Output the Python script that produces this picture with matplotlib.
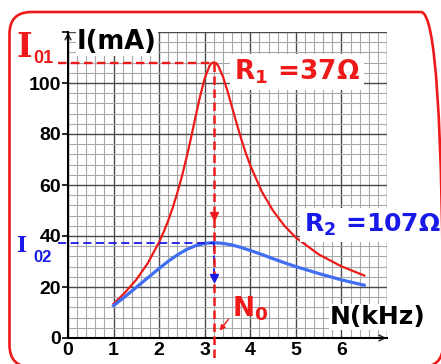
import numpy as np
import matplotlib
matplotlib.use("Agg")
import matplotlib.pyplot as plt
from matplotlib.patches import FancyBboxPatch

# ---- data ----
freq_r1 = [1.0, 1.25, 1.5, 1.75, 2.0, 2.1, 2.2, 2.3, 2.4, 2.5, 2.6, 2.7, 2.8, 2.9, 3.0, 3.1, 3.15,
           3.2, 3.25, 3.3, 3.4, 3.5, 3.6, 3.7, 3.8, 3.9, 4.0, 4.25, 4.5, 4.75, 5.0, 5.5, 6.0, 6.5]
current_r1 = [13.4, 17.8, 22.9, 29.3, 37.6, 41.6, 46.1, 51.2, 57.0, 63.4, 70.7, 78.5, 86.9, 94.9,
              101.8, 106.5, 107.8, 108.1, 107.8, 106.6, 102.5, 96.8, 90.5, 84.2, 78.1, 72.6, 67.7,
              57.5, 49.9, 44.0, 39.4, 32.8, 28.1, 24.5]
freq_r2 = [1.0, 1.25, 1.5, 1.75, 2.0, 2.2, 2.4, 2.6, 2.8, 3.0, 3.2, 3.4, 3.6, 3.8, 4.0, 4.25,
           4.5, 4.75, 5.0, 5.5, 6.0, 6.5]
current_r2 = [12.7, 16.2, 19.9, 23.6, 27.3, 30.1, 32.6, 34.7, 36.2, 37.1, 37.4, 37.1, 36.5, 35.5,
              34.3, 32.8, 31.1, 29.5, 28.0, 25.3, 22.8, 20.7]
n0 = 3.2
i01 = 108.0
i02 = 37.4
x_ticks = [0, 1, 2, 3, 4, 5, 6, 7]
x_labels = ["0", "1", "2", "3", "4", "5", "6", ""]
y_ticks = [0, 20, 40, 60, 80, 100, 120]
y_labels = ["0", "20", "40", "60", "80", "100", ""]

RED = "#ee1a1a"
BLUE_LINE = "#3f6ef2"
BLUE_TXT = "#1a1ae8"

plt.rcParams["mathtext.fontset"] = "dejavusans"

W, H = 441, 364
fig = plt.figure(figsize=(W / 100, H / 100), dpi=100)
fig.patch.set_facecolor("white")

ax = fig.add_axes([68 / W, (H - 338) / H, 319 / W, 306 / H])
ax.set_xlim(0, 7)
ax.set_ylim(0, 120)

ax.set_xticks(x_ticks)
ax.set_xticklabels(x_labels)
ax.set_yticks(y_ticks)
ax.set_yticklabels(y_labels)
ax.set_xticks(np.arange(0, 7.001, 0.2), minor=True)
ax.set_yticks(np.arange(0, 120.001, 4), minor=True)
ax.grid(which="minor", color="#a8a8a8", lw=0.8, zorder=0)
ax.grid(which="major", color="#4a4a4a", lw=1.0, zorder=0)
ax.set_axisbelow(True)
ax.tick_params(which="minor", length=0)
ax.tick_params(axis="x", which="major", length=0, pad=3)
ax.tick_params(axis="y", which="major", length=4, width=1.2, pad=1)
for lab in ax.get_xticklabels() + ax.get_yticklabels():
    lab.set_fontfamily("Liberation Sans")
    lab.set_fontweight("bold")
    lab.set_fontsize(14)
for s in ["top", "right"]:
    ax.spines[s].set_visible(False)
for s in ["left", "bottom"]:
    ax.spines[s].set_linewidth(1.5)
    ax.spines[s].set_zorder(3)

# axis arrows
ax.annotate("", xy=(7.05, 0), xytext=(6.8, 0),
            arrowprops=dict(arrowstyle="->", lw=1.2, color="#333333"), annotation_clip=False)
ax.annotate("", xy=(0, 121), xytext=(0, 116),
            arrowprops=dict(arrowstyle="->", lw=1.2, color="#333333"), annotation_clip=False)

# curves
ax.plot(freq_r1, current_r1, color=RED, lw=1.6, zorder=4)
ax.plot(freq_r2, current_r2, color=BLUE_LINE, lw=2.3, zorder=4)

# dashed guides
ax.plot([-0.22, n0], [i02, i02], color=BLUE_TXT, lw=1.3, dashes=(4.5, 2.5), clip_on=False, zorder=5)
ax.plot([n0, n0], [i02, 23], color=BLUE_TXT, lw=1.3, dashes=(4.5, 2.5), zorder=5)
ax.plot([-0.22, n0], [i01, i01], color=RED, lw=1.7, dashes=(3.6, 1.9), clip_on=False, zorder=5)
ax.plot([n0, n0], [i01, -8.6], color=RED, lw=1.8, dashes=(3.4, 1.8), clip_on=False, zorder=6)
ax.plot([n0], [48], marker="v", color=RED, ms=6, zorder=7)
ax.plot([n0], [23.5], marker="v", color=BLUE_TXT, ms=6, zorder=7)

# N0 arrow
ax.annotate("", xy=(3.29, 2.0), xytext=(3.56, 8.2),
            arrowprops=dict(arrowstyle="-|>", lw=1.0, color=RED, mutation_scale=8),
            annotation_clip=False, zorder=7)

def px(x, y):
    return x / W, 1 - y / H

# labels
fig.text(*px(77, 42), "I(mA)", fontsize=18.5, fontweight="bold", family="DejaVu Sans",
         ha="left", va="center", color="black",
         bbox=dict(boxstyle="square,pad=0.05", fc="white", ec="none"), zorder=10)

fig.text(*px(330, 317), "N(kHz)", fontsize=18, fontweight="bold", family="DejaVu Sans",
         ha="left", va="center", color="black",
         bbox=dict(boxstyle="square,pad=0.05", fc="white", ec="none"), zorder=10)

fig.text(*px(234, 72), r"$\mathbf{R_1}$ =37Ω", fontsize=19, fontweight="bold",
         family="DejaVu Sans", ha="left", va="center", color=RED,
         bbox=dict(boxstyle="square,pad=0.15", fc="white", ec="none"), zorder=10)
fig.text(*px(304, 225), r"$\mathbf{R_2}$ =107Ω", fontsize=18, fontweight="bold",
         family="DejaVu Sans", ha="left", va="center", color=BLUE_TXT,
         bbox=dict(boxstyle="square,pad=0.15", fc="white", ec="none"), zorder=10)

fig.text(*px(232, 309), r"$\mathbf{N_0}$", fontsize=19, family="DejaVu Sans",
         ha="left", va="center", color=RED, zorder=10)

# I01 / I02
fig.text(*px(16, 57), "I", fontsize=24, fontweight="bold", family="DejaVu Serif",
         ha="left", va="baseline", color=RED, zorder=10)
fig.text(*px(33, 63), "01", fontsize=13, fontweight="bold", family="Liberation Sans",
         ha="left", va="baseline", color=RED, zorder=10)
fig.text(*px(17, 252), "I", fontsize=15.5, fontweight="bold", family="DejaVu Serif",
         ha="left", va="baseline", color=BLUE_TXT, zorder=10)
fig.text(*px(33, 262), "02", fontsize=12, fontweight="bold", family="Liberation Sans",
         ha="left", va="baseline", color=BLUE_TXT, zorder=10)

# rounded frame (in inches)
frame = FancyBboxPatch((0.095, (H - 367) / 100), (443 - 9.5) / 100, (367 - 12) / 100,
                       boxstyle="round,pad=0,rounding_size=0.22",
                       transform=fig.dpi_scale_trans, fc="none", ec=RED, lw=1.9,
                       clip_on=False, zorder=20)
fig.add_artist(frame)

fig.savefig("out.png", dpi=100)
